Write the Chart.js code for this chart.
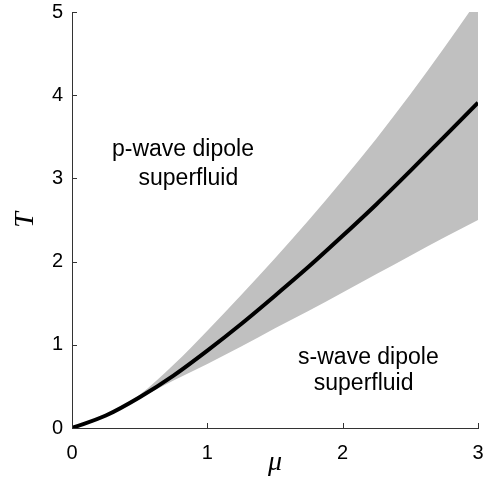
<!DOCTYPE html>
<html>
<head>
<meta charset="utf-8">
<script src="https://cdn.jsdelivr.net/npm/chart.js@4.4.1/dist/chart.umd.min.js"></script>
<style>
  html, body { margin: 0; padding: 0; background: #fff; }
  #wrap { width: 487px; height: 494px; }
</style>
</head>
<body>
<div id="wrap"><canvas id="phaseChart"></canvas></div>
<script>
// chemical potential grid (mu) and temperatures
const mu = [0, 0.25, 0.5, 0.75, 1.0, 1.25, 1.5, 1.75, 2.0, 2.25, 2.5, 2.75, 3.0];
const tCurve = [0, 0.15, 0.37, 0.63, 0.93, 1.25, 1.59, 1.94, 2.31, 2.69, 3.09, 3.50, 3.91];
const tUpper = [0, 0.15, 0.40, 0.76, 1.17, 1.60, 2.04, 2.50, 2.98, 3.48, 4.01, 4.57, 5.15];
const tLower = [0, 0.15, 0.36, 0.57, 0.77, 0.98, 1.20, 1.41, 1.63, 1.85, 2.07, 2.29, 2.50];
const xTicks = [0, 1, 2, 3];
const yTicks = [0, 1, 2, 3, 4, 5];

// region labels: [mu, T, text]
const labels = [
  [0.82, 3.34, 'p-wave dipole'],
  [0.86, 3.00, 'superfluid'],
  [2.19, 0.85, 's-wave dipole'],
  [2.155, 0.53, 'superfluid']
];

const pts = arr => mu.map((m, i) => ({ x: m, y: arr[i] }));

// ticks drawn inward plus region text and axis symbols
const extras = {
  id: 'extras',
  afterDraw(chart) {
    const c = chart.ctx;
    const xs = chart.scales.x, ys = chart.scales.y;
    const area = chart.chartArea;
    c.save();
    c.strokeStyle = '#333';
    c.lineWidth = 1;
    c.beginPath();
    xTicks.forEach(v => {
      const px = Math.round(xs.getPixelForValue(v)) + 0.5;
      c.moveTo(px, area.bottom);
      c.lineTo(px, area.bottom - 5);
    });
    yTicks.forEach(v => {
      const py = Math.round(ys.getPixelForValue(v)) + 0.5;
      c.moveTo(area.left, py);
      c.lineTo(area.left + 5, py);
    });
    c.stroke();

    c.fillStyle = '#000';
    c.font = '23px "Liberation Sans", Arial, sans-serif';
    c.textAlign = 'center';
    c.textBaseline = 'middle';
    labels.forEach(l => {
      c.fillText(l[2], xs.getPixelForValue(l[0]), ys.getPixelForValue(l[1]));
    });

    c.font = 'italic 28px "Liberation Serif", "Times New Roman", serif';
    c.fillText('\u03bc', (area.left + area.right) / 2, 463);
    c.translate(26, (area.top + area.bottom) / 2);
    c.rotate(-Math.PI / 2);
    c.fillText('T', 0, 0);
    c.restore();
  }
};

const ctx = document.getElementById('phaseChart').getContext('2d');
const phaseChart = new Chart(ctx, {
  type: 'line',
  data: {
    datasets: [{
      label: 'upper',
      data: pts(tUpper),
      borderWidth: 0,
      pointRadius: 0,
      backgroundColor: '#c0c0c0',
      fill: '+1',
      cubicInterpolationMode: 'monotone',
      order: 1
    }, {
      label: 'lower',
      data: pts(tLower),
      borderWidth: 0,
      pointRadius: 0,
      fill: false,
      cubicInterpolationMode: 'monotone',
      order: 1
    }, {
      label: 'Tc',
      data: pts(tCurve),
      borderColor: '#000',
      borderWidth: 4,
      pointRadius: 0,
      fill: false,
      cubicInterpolationMode: 'monotone',
      order: 0
    }]
  },
  options: {
    responsive: true,
    maintainAspectRatio: false,
    animation: false,
    layout: { padding: { top: 12, right: 9, left: 0, bottom: 0 } },
    plugins: {
      legend: { display: false },
      tooltip: { enabled: false }
    },
    scales: {
      x: {
        type: 'linear',
        min: 0,
        max: 3,
        afterBuildTicks: s => { s.ticks = xTicks.map(v => ({ value: v })); },
        afterFit: s => { s.height = 66; s.paddingLeft = 0; s.paddingRight = 0; },
        grid: { display: false, drawTicks: false },
        border: { color: '#333', width: 1 },
        ticks: {
          padding: 13,
          color: '#000',
          font: { family: '"Liberation Sans", Arial, sans-serif', size: 20 }
        }
      },
      y: {
        type: 'linear',
        min: 0,
        max: 5,
        afterBuildTicks: s => { s.ticks = yTicks.map(v => ({ value: v })); },
        afterFit: s => { s.width = 72; s.paddingTop = 0; s.paddingBottom = 0; },
        grid: { display: false, drawTicks: false },
        border: { color: '#333', width: 1 },
        ticks: {
          padding: 9,
          color: '#000',
          font: { family: '"Liberation Sans", Arial, sans-serif', size: 20 }
        }
      }
    }
  },
  plugins: [extras]
});
</script>
</body>
</html>
